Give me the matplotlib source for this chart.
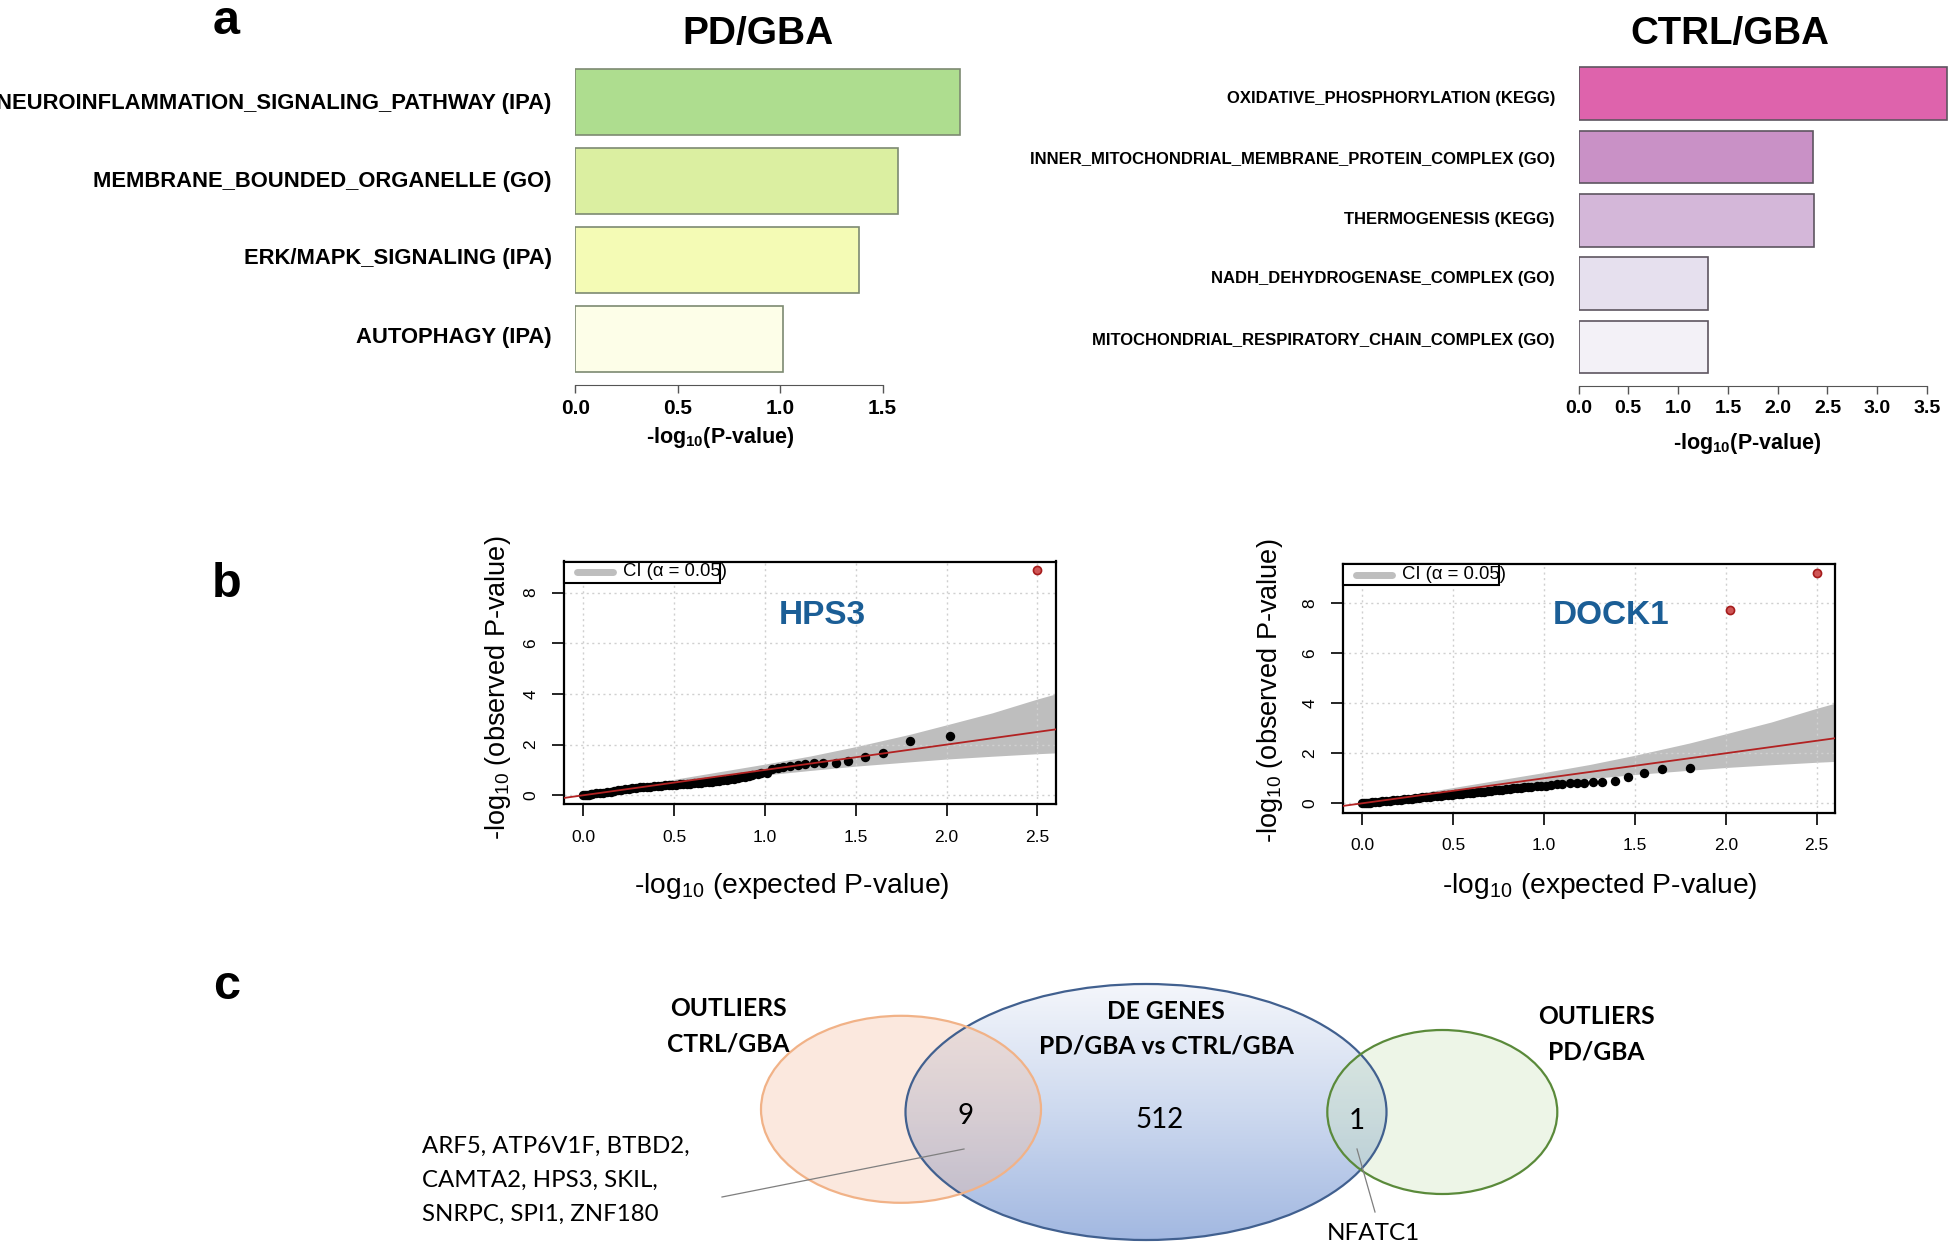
import numpy as np
import matplotlib
matplotlib.use("Agg")
import matplotlib.pyplot as plt
from matplotlib.patches import Ellipse, Rectangle
from matplotlib.colors import LinearSegmentedColormap

plt.rcParams['font.family'] = ['Liberation Sans', 'DejaVu Sans']

W, H = 1952, 1243

# ---- panel a: enrichment bars
pd_terms = ["NEUROINFLAMMATION_SIGNALING_PATHWAY (IPA)", "MEMBRANE_BOUNDED_ORGANELLE (GO)",
            "ERK/MAPK_SIGNALING (IPA)", "AUTOPHAGY (IPA)"]
pd_logp = [1.877, 1.576, 1.384, 1.016]
pd_colors = ["#aedd8f", "#dbefa1", "#f4fbb5", "#fdfee8"]

ctrl_terms = ["OXIDATIVE_PHOSPHORYLATION (KEGG)", "INNER_MITOCHONDRIAL_MEMBRANE_PROTEIN_COMPLEX (GO)",
              "THERMOGENESIS (KEGG)", "NADH_DEHYDROGENASE_COMPLEX (GO)",
              "MITOCHONDRIAL_RESPIRATORY_CHAIN_COMPLEX (GO)"]
ctrl_logp = [3.70, 2.35, 2.36, 1.30, 1.30]
ctrl_colors = ["#de63ac", "#c991c6", "#d4b7d9", "#e6e0ee", "#f3f1f7"]

# ---- panel b: QQ plots
expected = [2.50, 2.02, 1.80, 1.65, 1.55, 1.46, 1.39, 1.32, 1.27, 1.22, 1.18, 1.14, 1.10, 1.07,
            1.04, 1.01, 0.98, 0.96, 0.93, 0.91, 0.89, 0.87, 0.85, 0.83, 0.81, 0.79, 0.77, 0.75,
            0.73, 0.71, 0.69, 0.67, 0.65, 0.63, 0.61, 0.59, 0.57, 0.55, 0.53, 0.51, 0.49, 0.47,
            0.45, 0.43, 0.41, 0.39, 0.37, 0.35, 0.33, 0.31, 0.29, 0.27, 0.25, 0.23, 0.21, 0.19,
            0.17, 0.15, 0.13, 0.11, 0.09, 0.07, 0.05, 0.04, 0.03, 0.02, 0.01, 0.00]
hps3_obs = [8.88, 2.35, 2.16, 1.67, 1.50, 1.35, 1.29, 1.28, 1.26, 1.23, 1.19, 1.16, 1.10, 1.07,
            1.03, 0.88, 0.86, 0.84, 0.80, 0.77, 0.74, 0.71, 0.69, 0.66, 0.64, 0.62, 0.60, 0.58,
            0.56, 0.54, 0.53, 0.51, 0.50, 0.48, 0.47, 0.46, 0.45, 0.44, 0.43, 0.42, 0.41, 0.40,
            0.39, 0.38, 0.36, 0.35, 0.34, 0.33, 0.32, 0.31, 0.30, 0.28, 0.26, 0.23, 0.21, 0.19,
            0.17, 0.14, 0.12, 0.10, 0.09, 0.07, 0.05, 0.04, 0.03, 0.02, 0.01, 0.01]
dock1_obs = [9.20, 7.72, 1.40, 1.39, 1.23, 1.05, 0.88, 0.85, 0.84, 0.83, 0.82, 0.81, 0.79, 0.77,
             0.74, 0.71, 0.69, 0.68, 0.67, 0.66, 0.65, 0.63, 0.62, 0.60, 0.59, 0.57, 0.55, 0.53,
             0.52, 0.50, 0.49, 0.47, 0.46, 0.44, 0.43, 0.42, 0.40, 0.39, 0.38, 0.37, 0.35, 0.34,
             0.33, 0.31, 0.30, 0.28, 0.27, 0.25, 0.24, 0.22, 0.21, 0.19, 0.18, 0.16, 0.15, 0.13,
             0.12, 0.11, 0.09, 0.08, 0.07, 0.05, 0.04, 0.03, 0.02, 0.01, 0.01, 0.00]
hps3_n_out = 1
dock1_n_out = 2
ci_x = [0.0, 0.25, 0.5, 0.75, 1.0, 1.25, 1.5, 1.8, 2.0, 2.25, 2.5, 2.65]
ci_upper = [0.01, 0.33, 0.63, 0.93, 1.23, 1.55, 1.92, 2.41, 2.78, 3.25, 3.80, 4.10]
ci_lower = [0.00, 0.18, 0.39, 0.60, 0.80, 0.98, 1.15, 1.32, 1.43, 1.54, 1.64, 1.69]
qq_xticks = [0.0, 0.5, 1.0, 1.5, 2.0, 2.5]
qq_yticks = [0, 2, 4, 6, 8]

# ---- panel c: Venn
venn_counts = [9, 512, 1]
shared_ctrl_genes = ["ARF5, ATP6V1F, BTBD2,", "CAMTA2, HPS3, SKIL,", "SNRPC, SPI1, ZNF180"]
shared_pd_genes = ["NFATC1"]


def rect(l, t, r, b):
    return [l / W, 1 - b / H, (r - l) / W, (b - t) / H]


fig = plt.figure(figsize=(W / 100, H / 100), dpi=100)

ov = fig.add_axes([0, 0, 1, 1])
ov.set_xlim(0, W)
ov.set_ylim(H, 0)
ov.axis('off')


def bar_panel(box, terms, vals, colors, edge, xmax, ticks, ylim, label_pos, label_size, tick_size):
    ax = fig.add_axes(rect(*box))
    pos = 0.7 + 1.2 * np.arange(len(terms))[::-1]
    ax.barh(pos, vals, height=1.0, color=colors, edgecolor=edge, linewidth=1.2)
    ax.set_xlim(0, xmax)
    ax.set_ylim(*ylim)
    for s in ['top', 'right', 'left']:
        ax.spines[s].set_visible(False)
    ax.spines['bottom'].set_bounds(ticks[0], ticks[-1])
    ax.spines['bottom'].set_color('#555555')
    ax.set_xticks(ticks, [f'{t:.1f}' for t in ticks])
    ax.set_yticks(label_pos, terms)
    ax.tick_params(axis='y', length=0, pad=17, labelsize=label_size)
    ax.tick_params(axis='x', length=6, width=1, color='#555555', pad=4, labelsize=tick_size)
    for lab in ax.get_xticklabels() + ax.get_yticklabels():
        lab.set_fontweight('bold')
    ax.patch.set_visible(False)
    return ax


bar_panel((575.2, 57.5, 964.5, 385.5), pd_terms, pd_logp, pd_colors, '#7d8a72',
          1.9, [0.0, 0.5, 1.0, 1.5], (0, 4.98), [4.32, 3.13, 1.96, 0.77], 15.8, 15)
bar_panel((1578.5, 56.8, 1949, 386.0), ctrl_terms, ctrl_logp, ctrl_colors, '#5e5560',
          3.72, [0.0, 0.5, 1.0, 1.5, 2.0, 2.5, 3.0, 3.5], (-0.04, 6.2),
          [5.44, 4.28, 3.15, 2.02, 0.86], 12, 14)

fig.text(758 / W, 1 - 33.6 / H, "PD/GBA", fontsize=28, fontweight='bold', ha='center', va='center')
fig.text(1730 / W, 1 - 33.6 / H, "CTRL/GBA", fontsize=27.7, fontweight='bold', ha='center', va='center')
fig.text(720 / W, 1 - 438 / H, r'-log$_{\mathregular{10}}$(P-value)', fontsize=15.5,
         fontweight='bold', ha='center', va='center')
fig.text(1747 / W, 1 - 444 / H, r'-log$_{\mathregular{10}}$(P-value)', fontsize=15.5,
         fontweight='bold', ha='center', va='center')


def qq_panel(box, ylim, obs, n_out, gene, gene_xy, xlab_xy, ylab_xy):
    ax = fig.add_axes(rect(*box))
    aw = box[2] - box[0]
    ah = box[3] - box[1]
    ax.fill_between(ci_x, ci_lower, ci_upper, color='#bebebe', lw=0, zorder=1)
    ax.set_xlim(-0.105, 2.60)
    ax.set_ylim(*ylim)
    ax.set_xticks(qq_xticks, [f'{t:.1f}' for t in qq_xticks])
    ax.set_yticks(qq_yticks, [str(t) for t in qq_yticks])
    for lab in ax.get_yticklabels():
        lab.set_rotation(90)
        lab.set_va('center')
    ax.grid(True, color='#d0d0d0', linestyle=(0, (1.5, 2.5)), lw=1)
    ax.scatter(expected[n_out:], obs[n_out:], s=46, c='black', lw=0, zorder=3)
    ax.scatter(expected[:n_out], obs[:n_out], s=34, facecolor='#cf5656', edgecolor='#a61c1c',
               lw=1.2, zorder=3)
    ax.plot([-0.2, 2.7], [-0.2, 2.7], color='#b22222', lw=1.3, zorder=4)
    for s in ax.spines.values():
        s.set_linewidth(1.6)
    ax.tick_params(length=8.6, width=1.2, labelsize=12.5, pad=10)
    ax.add_patch(Rectangle((0, 1 - 21 / ah), 156 / aw, 21 / ah, transform=ax.transAxes,
                           fc='white', ec='black', lw=1.5, zorder=5, clip_on=False))
    ax.plot([13 / aw, 49 / aw], [1 - 10.5 / ah] * 2, transform=ax.transAxes, color='#bebebe',
            lw=5, solid_capstyle='round', zorder=6, clip_on=False)
    ax.text(59 / aw, 1 - 10.5 / ah, 'CI (α = 0.05)', transform=ax.transAxes, fontsize=13.3,
            va='center', zorder=6, clip_on=False)
    fig.text(gene_xy[0] / W, 1 - gene_xy[1] / H, gene, fontsize=24, fontweight='bold',
             color='#1b5e96', ha='center', va='center')
    fig.text(xlab_xy[0] / W, 1 - xlab_xy[1] / H, r'-log$_{\mathregular{10}}$ (expected P-value)',
             fontsize=20.3, ha='center', va='center')
    fig.text(ylab_xy[0] / W, 1 - ylab_xy[1] / H, r'-log$_{\mathregular{10}}$ (observed P-value)',
             fontsize=19.5, ha='center', va='center', rotation=90)
    return ax


qq_panel((564.2, 561.5, 1055.5, 804.2), (-0.353, 9.23), hps3_obs, hps3_n_out, "HPS3",
         (822, 615), (792, 886), (498, 688))
qq_panel((1343.4, 564.0, 1834.9, 812.5), (-0.37, 9.57), dock1_obs, dock1_n_out, "DOCK1",
         (1611, 615), (1600, 886), (1270, 691))

# ---- panel letters
for letter, y in [("a", 21), ("b", 584), ("c", 986)]:
    ov.text(226.6, y, letter, fontsize=35, fontweight='bold', ha='center', va='center')

# ---- Venn diagram
venn_font = ['Lato', 'DejaVu Sans']
blue = Ellipse((1146, 1112), 481, 256)
grad = np.linspace(0, 1, 256)[:, None]
cmap = LinearSegmentedColormap.from_list('bl', ['#f4f6fb', '#cdd9ef', '#a2b8e1'])
im = ov.imshow(grad, extent=[1146 - 240.5, 1146 + 240.5, 1112 + 128, 1112 - 128], cmap=cmap,
               aspect='auto', zorder=1, interpolation='bilinear')
blue.set_transform(ov.transData)
blue.set_facecolor('none')
blue.set_edgecolor('none')
ov.add_patch(blue)
im.set_clip_path(blue)
ov.add_patch(Ellipse((901, 1109.3), 280, 187, fc='#f2b694', alpha=0.3, ec='none', zorder=2))
ov.add_patch(Ellipse((1442.3, 1112), 230, 164, fc='#c6e1b2', alpha=0.3, ec='none', zorder=2))
ov.add_patch(Ellipse((1146, 1112), 481, 256, fc='none', ec='#41608f', lw=1.6, zorder=3))
ov.add_patch(Ellipse((901, 1109.3), 280, 187, fc='none', ec='#f1b287', lw=1.6, zorder=3))
ov.add_patch(Ellipse((1442.3, 1112), 230, 164, fc='none', ec='#5a8a3a', lw=1.6, zorder=3))
ov.set_xlim(0, W)
ov.set_ylim(H, 0)

title_kw = dict(family=venn_font, fontsize=17.7, fontweight='bold', ha='center', va='center', zorder=4)
ov.text(728, 1008, "OUTLIERS", **title_kw)
ov.text(728, 1044, "CTRL/GBA", **title_kw)
ov.text(1166, 1011, "DE GENES", **title_kw)
ov.text(1166, 1046, "PD/GBA vs CTRL/GBA", **title_kw)
ov.text(1596, 1017, "OUTLIERS", **title_kw)
ov.text(1596, 1052, "PD/GBA", **title_kw)
for (x, y), n in zip([(966, 1116), (1160, 1120), (1357, 1121)], venn_counts):
    ov.text(x, y, str(n), family=venn_font, fontsize=20, ha='center', va='center', zorder=4)
for i, line in enumerate(shared_ctrl_genes):
    ov.text(421.7, 1146.7 + 34 * i, line, family=venn_font, fontsize=17.3, ha='left', va='center', zorder=4)
ov.text(1373, 1233, shared_pd_genes[0], family=venn_font, fontsize=17.5, ha='center', va='center', zorder=4)
ov.plot([722, 964], [1197, 1149], color='#7f7f7f', lw=0.9, zorder=4)
ov.plot([1357, 1375], [1149, 1212], color='#7f7f7f', lw=0.9, zorder=4)

fig.savefig("out.png", dpi=100)
